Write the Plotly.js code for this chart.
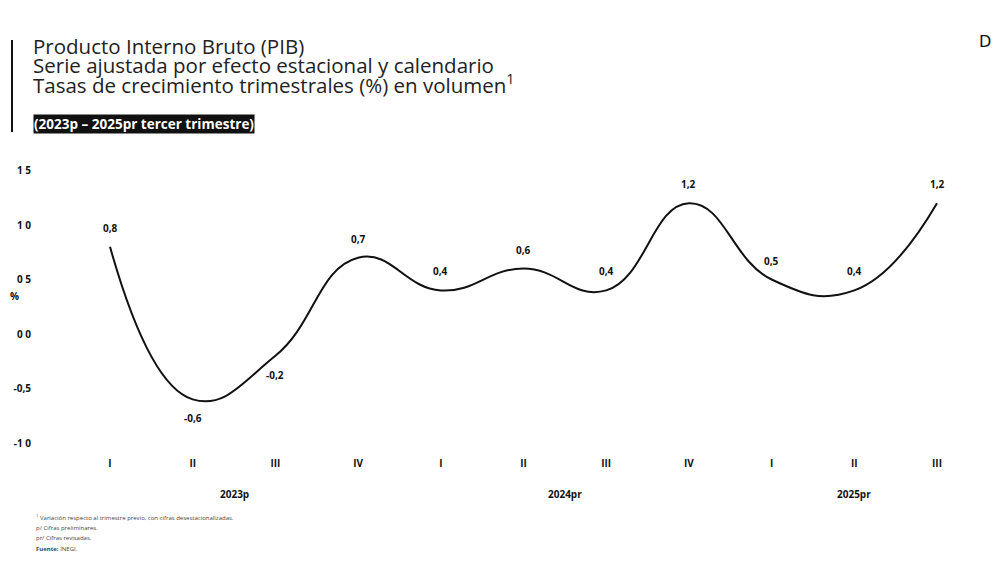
<!DOCTYPE html>
<html>
<head>
<meta charset="utf-8">
<script src="https://cdn.plot.ly/plotly-3.0.1.min.js"></script>
<style>
html,body{margin:0;padding:0;background:#fff;}
#chart{width:1001px;height:568px;}
</style>
</head>
<body>
<div id="chart"></div>
<script>
// ---- Data ----
const quarters = ["I","II","III","IV","I","II","III","IV","I","II","III"];
const years = ["2023p","2024pr","2025pr"];
const yearCenters = [1.5, 5.5, 9];
const growth = [0.8, -0.6, -0.2, 0.7, 0.4, 0.6, 0.4, 1.2, 0.5, 0.4, 1.2];
const yTicks = [-1.0, -0.5, 0.0, 0.5, 1.0, 1.5];
const yTickText = ["-1 0", "-0,5", "0 0", "0 5", "1 0", "1 5"];
const titleLines = [
  "Producto Interno Bruto (PIB)",
  "Serie ajustada por efecto estacional y calendario",
  "Tasas de crecimiento trimestrales (%) en volumen<sup>1</sup>"
];
const periodTag = "(2023p – 2025pr tercer trimestre)";
const notes = [
  "<sup>1</sup> Variación respecto al trimestre previo, con cifras desestacionalizadas.",
  "p/ Cifras preliminares.",
  "pr/ Cifras revisadas.",
  "<b>Fuente:</b> INEGI."
];

const idx = quarters.map((q, i) => i);
const fmt = v => v.toFixed(1).replace('.', ',');
const labelBelow = [false, true, true, false, false, false, false, false, false, false, false];

const W = 1001, H = 568;
const margin = {l: 32, r: 36, t: 160, b: 118};
const px2x = px => (px - margin.l) / (W - margin.l - margin.r);
const px2y = py => (H - margin.b - py) / (H - margin.t - margin.b);

const labelFont = {family: "Open Sans, sans-serif", size: 10, color: "#111", weight: 700};

const annotations = growth.map((v, i) => ({
  x: idx[i], y: v, xref: 'x', yref: 'y', text: fmt(v), showarrow: false,
  font: labelFont, yshift: labelBelow[i] ? -19 : 19
}));

years.forEach((y, i) => annotations.push({
  x: yearCenters[i], y: 0, xref: 'x', yref: 'paper', yanchor: 'top', yshift: -35,
  text: y, showarrow: false, font: labelFont
}));

// Title lines (tight line spacing as in the reference)
const titleFont = {family: "Open Sans, sans-serif", size: 20.5, color: "#222"};
const titleY = [46, 65, 84];
titleLines.forEach((t, i) => annotations.push({
  xref: 'paper', yref: 'paper', x: px2x(31), y: px2y(titleY[i]), xanchor: 'left', yanchor: 'middle',
  align: 'left', showarrow: false, font: titleFont, text: t
}));
annotations.push({
  xref: 'paper', yref: 'paper', x: px2x(33), y: px2y(124), xanchor: 'left', yanchor: 'middle',
  showarrow: false, text: periodTag,
  font: {family: "Open Sans, sans-serif", size: 13.5, color: "#fff", weight: 700},
  bgcolor: "#111", borderpad: 0
});
annotations.push({
  xref: 'paper', yref: 'paper', x: px2x(993), y: px2y(30), xanchor: 'right', yanchor: 'top',
  showarrow: false, text: "D", font: {family: "DejaVu Sans, sans-serif", size: 16, color: "#111"}
});
annotations.push({
  xref: 'paper', yref: 'paper', x: px2x(8), y: px2y(296), xanchor: 'left', yanchor: 'middle',
  showarrow: false, text: "%", font: labelFont
});
const noteY = [517, 528, 538, 549];
notes.forEach((n, i) => annotations.push({
  xref: 'paper', yref: 'paper', x: px2x(34), y: px2y(noteY[i]), xanchor: 'left', yanchor: 'middle',
  showarrow: false, text: n, font: {family: "Open Sans, sans-serif", size: 6, color: "#444"}
}));

const trace = {
  x: idx, y: growth, type: 'scatter', mode: 'lines',
  line: {color: '#111', width: 2, shape: 'spline', smoothing: 1.3},
  hoverinfo: 'skip'
};

const layout = {
  width: W, height: H, margin: margin,
  paper_bgcolor: '#fff', plot_bgcolor: '#fff', showlegend: false,
  xaxis: {
    range: [-(110 - 32) / 82.7, 10 + (965 - 937) / 82.7],
    tickvals: idx, ticktext: quarters, showgrid: false, zeroline: false, showline: false,
    ticks: '', tickfont: labelFont, ticklabelstandoff: 6, fixedrange: true
  },
  yaxis: {
    range: [-(450 - 334) / 109, (334 - 160) / 109],
    tickvals: yTicks, ticktext: yTickText, showgrid: false, zeroline: false, showline: false,
    ticks: '', tickfont: labelFont, fixedrange: true
  },
  annotations: annotations,
  shapes: [{type: 'line', xref: 'paper', yref: 'paper',
    x0: px2x(12), x1: px2x(12), y0: px2y(40), y1: px2y(132),
    line: {color: '#111', width: 2}}]
};

Plotly.newPlot('chart', [trace], layout, {displayModeBar: false, staticPlot: true});
</script>
</body>
</html>
